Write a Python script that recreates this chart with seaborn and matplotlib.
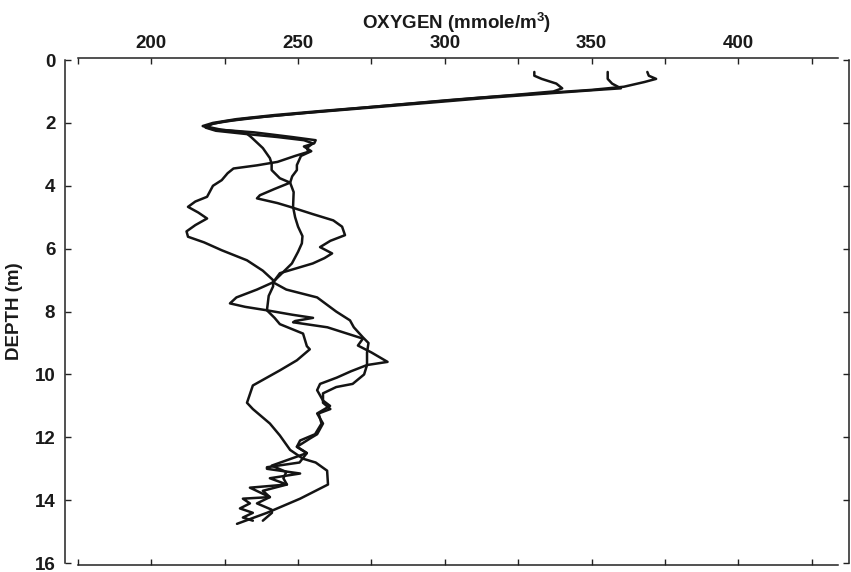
import numpy as np
import pandas as pd
import matplotlib
matplotlib.use("Agg")
import matplotlib.pyplot as plt
from matplotlib.ticker import MultipleLocator
import seaborn as sns

# Dissolved oxygen profiles (mmole/m^3) versus depth (m), three casts
cast1_depth = [0.38, 0.5, 0.6, 0.75, 0.9, 1.0, 1.1, 1.27, 1.45, 1.6, 1.72, 1.85, 1.95, 2.05,
               2.15, 2.25, 2.35, 2.45, 2.55, 2.65, 2.8, 2.92, 3.05, 3.24, 3.35, 3.45, 3.6,
               3.82, 4.0, 4.35, 4.5, 4.67, 4.85, 5.04, 5.25, 5.45, 5.62, 5.8, 6.05, 6.37,
               6.7, 7.0, 7.2, 7.5, 7.96, 8.2, 8.4, 8.7, 9.1, 9.2, 9.55, 9.87, 10.35, 10.9,
               11.1, 11.56, 11.94, 12.4, 12.68, 12.8, 13.06, 13.5, 13.95, 14.4, 14.75]
cast1_oxygen = [330.5, 330.5, 333, 338, 340, 337, 325, 302, 280, 262, 248, 233, 225, 220,
                218.5, 222, 232, 243, 252, 255, 253, 253.5, 249, 243, 236, 228, 226,
                224, 221, 219, 215, 212.5, 216, 219, 215, 212, 212.5, 218, 224, 232.6,
                238, 241.5, 241.5, 240, 239.4, 242, 243.8, 251.7, 253, 254, 249.6, 243.8, 234.6, 232.6,
                234.6, 240.4, 243.8, 247.3, 251.7, 256, 259.9, 260.2, 250.7, 239.4, 229.2]

cast2_depth = [0.38, 0.6, 0.75, 0.9, 0.95, 1.05, 1.2, 1.38, 1.55, 1.68, 1.8, 1.92, 2.02, 2.12,
               2.22, 2.3, 2.45, 2.8, 3.12, 3.3, 3.5, 3.76, 3.9, 4.1, 4.3, 4.4, 4.55, 4.67,
               4.9, 5.1, 5.3, 5.57, 5.75, 5.95, 6.15, 6.3, 6.47, 6.78, 7.07, 7.3, 7.55, 7.74,
               7.85, 7.96, 8.1, 8.2, 8.3, 8.34, 8.5, 8.86, 9.08, 9.3, 9.6, 9.7, 9.9, 10.1,
               10.3, 10.5, 10.83, 11.0, 11.24, 11.56, 11.9, 12.04, 12.1, 12.3, 12.5, 12.8,
               12.95, 13.0, 13.15, 13.3, 13.5, 13.6, 13.9, 13.95, 14.1, 14.26, 14.4, 14.55, 14.65]
cast2_oxygen = [355.5, 355.5, 357, 360, 352, 337, 315, 292, 270, 253, 239, 228, 221, 219,
                224, 232, 234, 238, 240.4, 241, 241, 243.8, 247.3, 242, 237, 236, 243, 247.3,
                255, 262, 265, 266, 261, 257.5, 261.6, 259, 255, 243.8, 241.5, 236, 229, 226.8,
                232, 239.4, 248, 255.1, 249, 248.3, 260, 272.1, 270.4, 275, 280.5, 273.5, 268, 263.2,
                257.5, 256.5, 258.5, 260.9, 256.5, 258.5, 256.5, 254, 253, 249.6, 253, 250.5,
                239.4, 239.4, 250.7, 240.4, 246.2, 233.6, 240.4, 231.2, 233.6, 230.2, 234.6, 231.2, 234.6]

cast3_depth = [0.38, 0.5, 0.6, 0.7, 0.85, 0.95, 1.05, 1.2, 1.35, 1.5, 1.62, 1.75, 1.88, 2.0,
               2.1, 2.2, 2.3, 2.45, 2.55, 2.65, 2.75, 2.9, 3.05, 3.34, 3.5, 3.7, 3.9, 4.2,
               4.67, 5.0, 5.3, 5.6, 5.83, 6.1, 6.47, 6.94, 7.07, 7.3, 7.55, 8.0, 8.28, 8.5,
               8.82, 9.0, 9.3, 9.7, 10.0, 10.3, 10.4, 10.6, 10.9, 11.1, 11.24, 11.56, 11.9,
               12.1, 12.3, 12.5, 12.7, 12.9, 13.1, 13.3, 13.5, 13.7, 13.9, 14.1, 14.3, 14.4, 14.65]
cast3_oxygen = [369, 369.5, 372, 368, 361, 350, 334, 312, 293, 274, 258, 242, 229, 221,
                217.5, 221, 235, 248, 256, 255.5, 252, 254.5, 251, 249.6, 249.6, 248, 247.3, 248.5,
                248.3, 249, 250, 251.5, 251.3, 250, 247.9, 242.8, 241.5, 246, 256.5, 263, 267.7, 269,
                272.1, 274, 273.5, 273.5, 272.5, 268.6, 263, 258.5, 258.5, 261, 257, 258, 255.8,
                250.7, 249.6, 253, 247, 241, 246, 245, 246.2, 238, 240.4, 236, 241, 241.1, 238]

frames = []
for name, d, o in [("cast 1", cast1_depth, cast1_oxygen),
                   ("cast 2", cast2_depth, cast2_oxygen),
                   ("cast 3", cast3_depth, cast3_oxygen)]:
    frames.append(pd.DataFrame({"cast": name, "depth": d, "oxygen": o}))
profiles = pd.concat(frames, ignore_index=True)

sns.set_style("white")
plt.rcParams["font.family"] = ["Liberation Sans", "DejaVu Sans"]

fig = plt.figure(figsize=(8.51, 5.72), dpi=100)
ax = fig.add_axes([0.0764, 0.0122, 0.9212, 0.8864])

sns.lineplot(data=profiles, x="oxygen", y="depth", hue="cast", units="cast",
             estimator=None, sort=False, orient="y",
             palette=["#141414"] * 3, linewidth=1.8, legend=False, ax=ax)

ax.set_xlim(170.6, 437.7)
ax.set_ylim(16.06, -0.064)

# Frame: x axes run 175-434, depth axes run 0-16
for side in ("top", "bottom"):
    ax.spines[side].set_bounds(175, 434)
for side in ("left", "right"):
    ax.spines[side].set_bounds(0, 16)
for sp in ax.spines.values():
    sp.set_visible(True)
    sp.set_color("#222222")
    sp.set_linewidth(1.1)

ax.xaxis.set_major_locator(MultipleLocator(50))
ax.xaxis.set_minor_locator(MultipleLocator(25))
ax.yaxis.set_major_locator(MultipleLocator(2))
ax.tick_params(axis="both", which="both", direction="in", length=4, width=1.0,
               color="#222222", top=True, bottom=True, left=True, right=True,
               labeltop=True, labelbottom=False, labelleft=True, labelright=False)
ax.tick_params(axis="x", pad=4)
ax.tick_params(axis="y", pad=7)

for lab in ax.get_xticklabels() + ax.get_yticklabels():
    lab.set_fontsize(13.5)
    lab.set_fontweight("bold")
    lab.set_color("#1a1a1a")

ax.xaxis.set_label_position("top")
ax.set_xlabel("OXYGEN (mmole/m$\\mathregular{^{3}}$)", fontsize=13.5, fontweight="bold",
              labelpad=5, color="#1a1a1a")
ax.set_ylabel("DEPTH (m)", fontsize=13.5, fontweight="bold", labelpad=8, color="#1a1a1a")
ax.grid(False)

fig.savefig("out.png", dpi=100, facecolor="white")
